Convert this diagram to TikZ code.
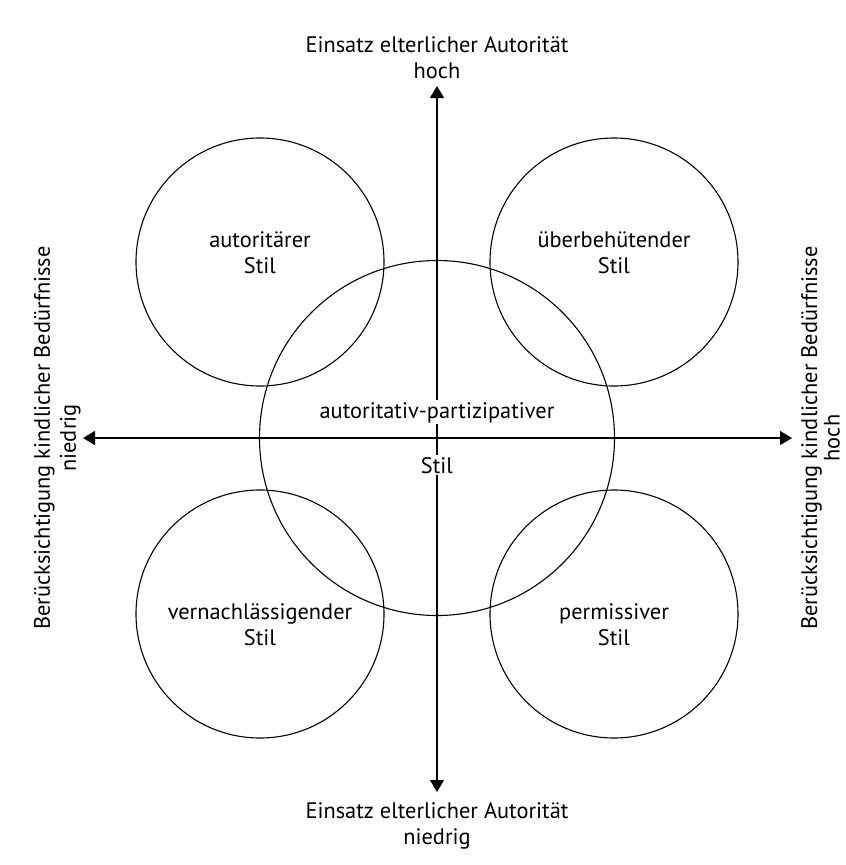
\documentclass[tikz,border=0pt]{standalone}
\usepackage{fontspec}
\setmainfont{PT Sans}
\usetikzlibrary{arrows.meta}

\begin{document}
\begin{tikzpicture}[x=1pt, y=-1pt, every node/.style={font=\fontsize{22.4}{26}\selectfont}, kreis/.style={draw, circle, line width=1.1pt, inner sep=0pt, minimum size=248pt}, stiltext/.style={align=center, inner sep=0pt}, achsentext/.style={align=center, inner xsep=0pt}, pfeil/.style={-{Triangle[length=12pt,width=14pt]}, line width=1.4pt}]
\useasboundingbox (0,0) rectangle (846,865);
\coordinate (mitte) at (437,438);
% die vier Randstile und der mittlere Stil
\node[kreis] (autoritaer) at (260,262) {};
\node[kreis] (ueberbehuetend) at (614,262) {};
\node[kreis] (vernachlaessigend) at (260,614) {};
\node[kreis] (permissiv) at (614,614) {};
\node[kreis, minimum size=355pt] (partizipativ) at (mitte) {};
\node[stiltext] (autoritaer-text) at ([yshift=9pt]autoritaer) {autoritärer\\Stil};
\node[stiltext] (ueberbehuetend-text) at ([yshift=9pt]ueberbehuetend) {überbehütender\\Stil};
\node[stiltext] (vernachlaessigend-text) at ([yshift=-11pt]vernachlaessigend) {vernachlässigender\\Stil};
\node[stiltext] (permissiv-text) at ([yshift=-11pt]permissiv) {permissiver\\Stil};
% Achsen
\node[achsentext, anchor=south, inner ysep=7pt] (oben) at (437,86) {Einsatz elterlicher Autorität\\hoch};
\node[achsentext, anchor=north, inner ysep=10pt] (unten) at (437,792) {Einsatz elterlicher Autorität\\niedrig};
\node[achsentext, rotate=90, anchor=south, inner ysep=2.2pt] (links) at (83,438) {Berücksichtigung kindlicher Bedürfnisse\\niedrig};
\node[achsentext, rotate=90, anchor=north, inner ysep=9pt, font=\fontsize{22.4}{22.5}\selectfont] (rechts) at (792,438) {Berücksichtigung kindlicher Bedürfnisse\\hoch};
\draw[pfeil] (mitte) -- (oben);
\draw[pfeil] (mitte) -- (unten);
\draw[pfeil] (mitte) -- (links);
\draw[pfeil] (mitte) -- (rechts);
\node[fill=white, inner sep=2pt, anchor=base] (partizipativ-oben) at (437,418) {autoritativ-partizipativer};
\node[fill=white, inner sep=2pt, anchor=base] (partizipativ-unten) at (437,473) {Stil};
\end{tikzpicture}
\end{document}
